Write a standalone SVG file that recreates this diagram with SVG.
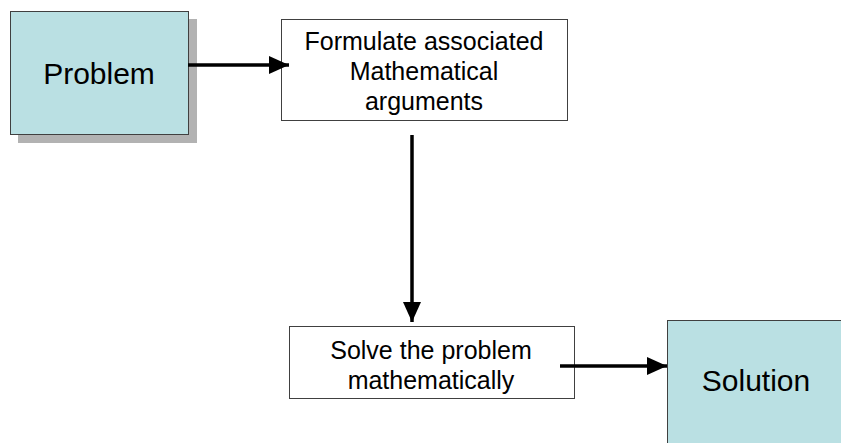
<svg xmlns="http://www.w3.org/2000/svg" width="841" height="443" viewBox="0 0 841 443">
<style>
.box{fill:#ffffff;stroke:#404040;stroke-width:1}
.teal{fill:#bae0e3;stroke:#404040;stroke-width:1}
.shadow{fill:#b2b2b2}
.t{font-family:"Liberation Sans",Arial,sans-serif;fill:#000;text-anchor:middle}
.big{font-size:30px}
.small{font-size:25px}
.conn{stroke:#000;stroke-width:3.5;fill:none;marker-end:url(#ah)}
</style>
<defs>
<marker id="ah" markerUnits="userSpaceOnUse" markerWidth="20" markerHeight="18" refX="20" refY="9" orient="auto">
<path d="M0,0 L20,9 L0,18 Z" fill="#000"/>
</marker>
</defs>
<rect width="841" height="443" fill="#fff"/>
<g id="problem">
<rect class="shadow" x="18" y="19" width="179" height="124"/>
<rect class="teal" x="10.5" y="11.5" width="178" height="123"/>
<text class="t big" x="99" y="84">Problem</text>
</g>
<g id="formulate">
<rect class="box" x="281.5" y="19.5" width="286" height="101"/>
<text class="t small" x="424" y="50">Formulate associated</text>
<text class="t small" x="424" y="80">Mathematical</text>
<text class="t small" x="424" y="110">arguments</text>
</g>
<g id="solve">
<rect class="box" x="289.5" y="326.5" width="285" height="72"/>
<text class="t small" x="431" y="359">Solve the problem</text>
<text class="t small" x="431" y="389">mathematically</text>
</g>
<g id="solution">
<rect class="teal" x="667.5" y="320.5" width="180" height="130"/>
<text class="t big" x="756" y="391">Solution</text>
</g>
<g id="connectors">
<line class="conn" x1="188" y1="65" x2="289" y2="65"/>
<line class="conn" x1="412" y1="135" x2="412" y2="322"/>
<line class="conn" x1="560" y1="366" x2="667" y2="366"/>
</g>
</svg>
